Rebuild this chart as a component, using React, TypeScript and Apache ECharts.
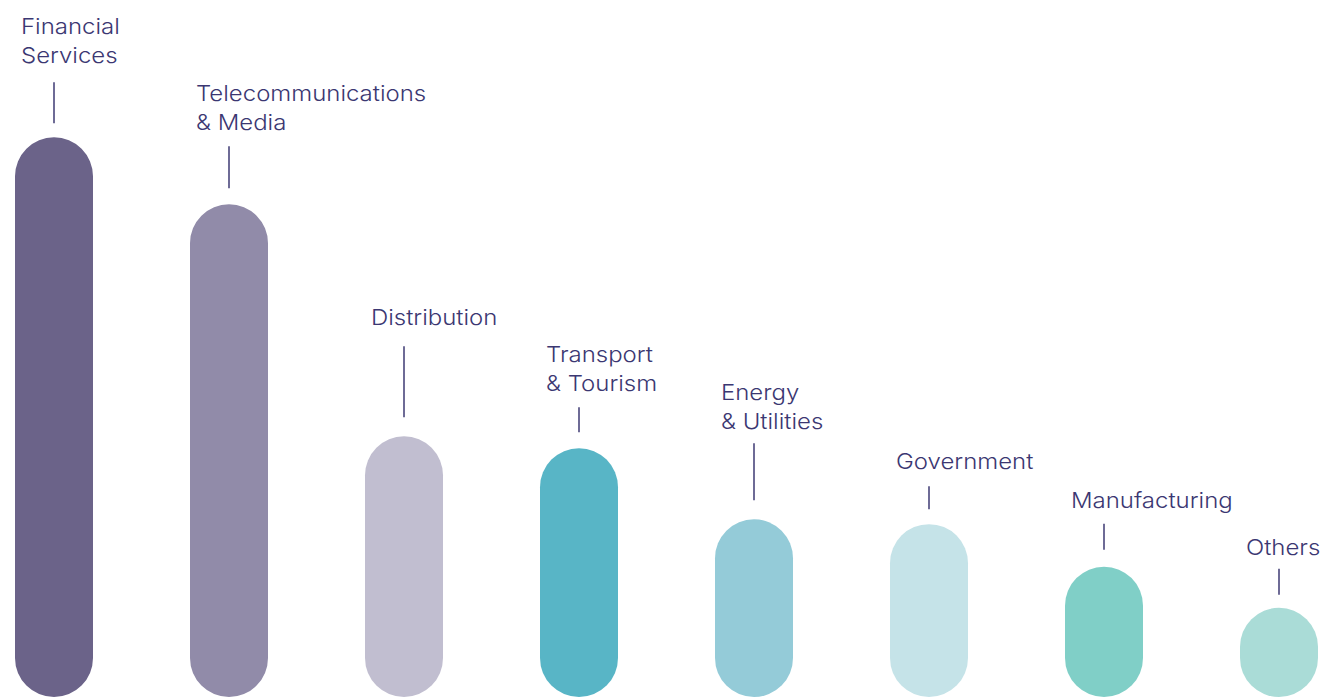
import React, { useEffect, useRef } from "react";
import * as echarts from "echarts";

const categories = [
  "Financial\nServices",
  "Telecommunications\n& Media",
  "Distribution",
  "Transport\n& Tourism",
  "Energy\n& Utilities",
  "Government",
  "Manufacturing",
  "Others",
];
const shares = [80.3, 70.7, 37.4, 35.7, 25.5, 24.8, 18.7, 12.8];
const barColors = [
  "#6b6389",
  "#918ba9",
  "#c1bed0",
  "#58b5c6",
  "#94cbd8",
  "#c5e3e8",
  "#80cfc7",
  "#aadcd7",
];
const leaderLengths = [41, 42, 71, 25, 57, 23, 26, 26];
const leaderGaps = [14, 16, 19, 16, 19, 15, 17, 13];
const labelGaps = [27, 24, 29, 24, 22, 25, 23, 21];

export default function App() {
  const ref = useRef<HTMLDivElement>(null);
  useEffect(() => {
    if (!ref.current) return;
    const chart = echarts.init(ref.current, undefined, { renderer: "svg" });
    const textColor = "#3b3772";
    chart.setOption({
      animation: false,
      backgroundColor: "#ffffff",
      grid: { left: 0, right: 0, top: 0, bottom: 0, containLabel: false },
      xAxis: {
        type: "value",
        min: -54 / 175,
        max: (1326 - 54) / 175,
        show: false,
      },
      yAxis: { type: "value", min: 0, max: 100, show: false },
      series: [
        {
          type: "bar",
          barWidth: 78,
          data: shares.map((v, i) => ({
            value: [i, v],
            itemStyle: { color: barColors[i], borderRadius: 39 },
          })),
        },
        {
          type: "custom",
          clip: false,
          data: shares.map((v, i) => [i, v]),
          encode: { x: 0, y: 1 },
          renderItem: (params: any, api: any) => {
            const idx = params.dataIndex;
            const p = api.coord([api.value(0), api.value(1)]);
            const lb = p[1] - leaderGaps[idx];
            const lt = lb - leaderLengths[idx];
            return {
              type: "group",
              children: [
                {
                  type: "line",
                  shape: { x1: p[0], y1: lb, x2: p[0], y2: lt },
                  style: { stroke: "#4a467c", lineWidth: 1.6 },
                },
                {
                  type: "text",
                  x: p[0] - 33,
                  y: lt - labelGaps[idx] + 14.5,
                  scaleX: 1.09,
                  style: {
                    text: categories[idx],
                    fill: textColor,
                    font: "300 22px Inter",
                    lineHeight: 29,
                    align: "left",
                    verticalAlign: "bottom",
                  },
                },
              ],
            };
          },
        },
      ],
    });
    return () => chart.dispose();
  }, []);
  return (
    <div
      ref={ref}
      style={{ position: "fixed", left: 0, top: 0, width: 1326, height: 697, background: "#fff" }}
    />
  );
}
